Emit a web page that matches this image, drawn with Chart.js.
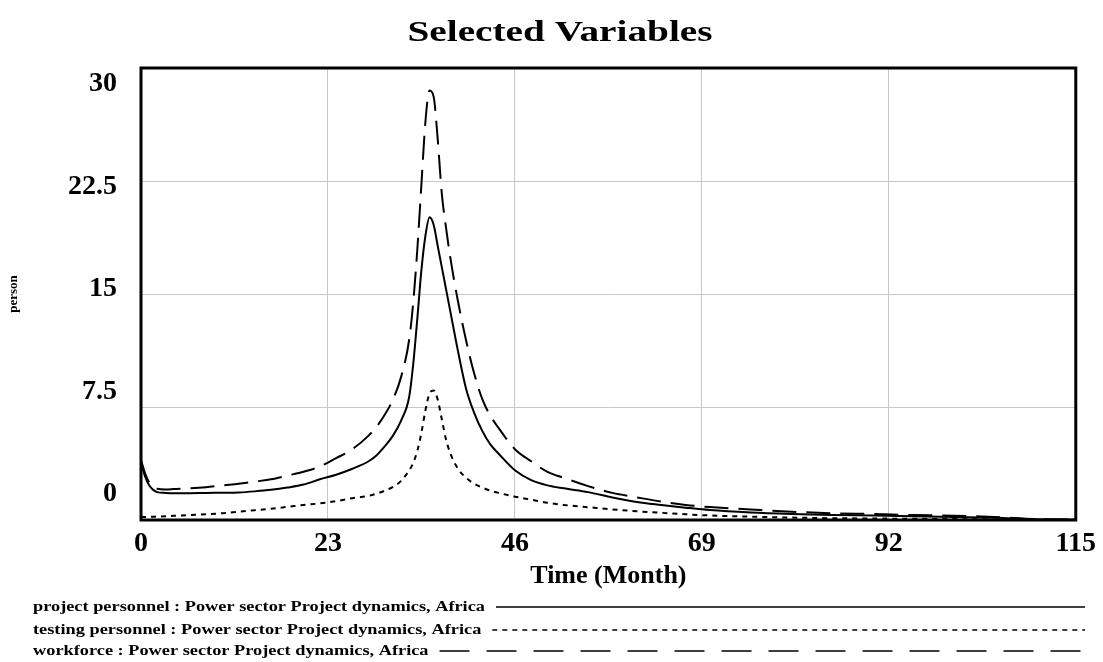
<!DOCTYPE html>
<html><head><meta charset="utf-8">
<script src="https://cdn.jsdelivr.net/npm/chart.js@4.4.1/dist/chart.umd.min.js"></script>
<style>html,body{margin:0;padding:0;background:#fff;} #wrap{width:1103px;height:662px;position:relative;}</style>
</head><body><div id="wrap"><canvas id="c" width="1103" height="662"></canvas></div>
<script>
const chartTitle = 'Selected Variables';
const xAxisTitle = 'Time (Month)';
const yAxisTitle = 'person';
const xTickLabels = ['0','23','46','69','92','115'];
const yTickValues = [0, 7.5, 15, 22.5, 30];
const yTickLabels = ['0','7.5','15','22.5','30'];
const seriesNames = [
  'project personnel : Power sector Project dynamics, Africa',
  'testing personnel : Power sector Project dynamics, Africa',
  'workforce : Power sector Project dynamics, Africa'
];
const times = [0,0.5,1,1.5,2, 3,4,6,8,10, 12,14,16,18,20, 22,24,26,28,29, 30,31,32,33,33.5, 34,34.5,35,35.5,36, 36.5,37,37.5,38,39, 40,41,42,43,44, 46,48,50,52,55, 58,61,64,67,70, 75,80,85,90,95, 100,105,110,115];
const projectPersonnel = [3.8,2.9,2.3,2.0,1.85, 1.8,1.78,1.78,1.8,1.81, 1.83,1.9,2.0,2.15,2.35, 2.7,3.0,3.4,3.9,4.3, 4.9,5.6,6.6,8.2,10.4, 13.4,16.6,18.9,20.1,19.6, 18.2,16.8,15.4,14.0,11.2, 8.7,7.1,5.9,5.0,4.4, 3.3,2.65,2.3,2.1,1.85, 1.5,1.2,1.0,0.82,0.66, 0.5,0.4,0.33,0.3,0.25, 0.2,0.15,0.05,0.02];
const testingPersonnel = [0.2,0.2,0.21,0.22,0.23, 0.25,0.28,0.32,0.38,0.45, 0.55,0.65,0.75,0.87,1.0, 1.1,1.25,1.45,1.6,1.75, 1.95,2.2,2.6,3.3,3.8, 4.6,5.8,7.3,8.4,8.6, 8.0,6.7,5.4,4.5,3.4, 2.8,2.4,2.15,1.95,1.8, 1.55,1.35,1.15,1.0,0.85, 0.7,0.58,0.48,0.38,0.3, 0.22,0.16,0.12,0.1,0.08, 0.06,0.04,0.02,0.01];
const workforce = [4.0,3.1,2.5,2.2,2.07, 2.03,2.05,2.1,2.18,2.3, 2.4,2.55,2.7,2.95,3.2, 3.55,4.1,4.7,5.6,6.2, 7.0,8.0,9.5,12.0,14.5, 18.0,22.3,26.5,28.5,28.1, 25.3,21.7,19.5,17.6,14.5, 11.9,9.7,8.0,6.9,6.1, 4.7,3.9,3.2,2.8,2.25, 1.8,1.5,1.22,1.0,0.86, 0.7,0.55,0.45,0.4,0.33, 0.28,0.2,0.07,0.03];

const SERIF = '"Liberation Serif", "Times New Roman", serif';
const toXY = arr => times.map((t, i) => ({x: t, y: arr[i]}));

const legendDashes = [[], [5,5], [30,17]];

const framePlugin = {
  id: 'frame',
  afterDatasetsDraw(chart) {
    const {ctx, chartArea: a} = chart;
    ctx.save();
    ctx.strokeStyle = '#000';
    ctx.lineWidth = 3;
    ctx.strokeRect(a.left, a.top, a.right - a.left, a.bottom - a.top);
    ctx.restore();
  }
};

const titlePlugin = {
  id: 'vtitle',
  afterDraw(chart) {
    const ctx = chart.ctx;
    ctx.save();
    ctx.font = 'bold 29px ' + SERIF;
    const w = ctx.measureText(chartTitle).width;
    ctx.translate(560, 34);
    ctx.scale(305 / w, 1);
    ctx.fillStyle = '#000';
    ctx.textAlign = 'center';
    ctx.textBaseline = 'middle';
    ctx.fillText(chartTitle, 0, 0);
    ctx.restore();
  }
};

const legendPlugin = {
  id: 'vlegend',
  afterDraw(chart) {
    const ctx = chart.ctx;
    const ys = [607, 630, 651];
    ctx.save();
    ctx.font = 'bold 15px ' + SERIF;
    const sx = 452 / ctx.measureText(seriesNames[0]).width;
    chart.data.datasets.forEach((ds, i) => {
      const w = ctx.measureText(ds.label).width * sx;
      ctx.save();
      ctx.translate(33, ys[i]);
      ctx.scale(sx, 1);
      ctx.fillStyle = '#000';
      ctx.textAlign = 'left';
      ctx.textBaseline = 'middle';
      ctx.fillText(ds.label, 0, 0);
      ctx.restore();
      ctx.beginPath();
      ctx.strokeStyle = '#000';
      ctx.lineWidth = 1.5;
      ctx.setLineDash(legendDashes[i]);
      ctx.moveTo(33 + w + 11, ys[i]);
      ctx.lineTo(1085, ys[i]);
      ctx.stroke();
    });
    ctx.restore();
  }
};

new Chart(document.getElementById('c'), {
  type: 'line',
  data: {
    datasets: [
      {label: seriesNames[0], data: toXY(projectPersonnel), borderColor: '#000', borderWidth: 2, borderDash: []},
      {label: seriesNames[1], data: toXY(testingPersonnel), borderColor: '#000', borderWidth: 2, borderDash: [5,5]},
      {label: seriesNames[2], data: toXY(workforce), borderColor: '#000', borderWidth: 2, borderDash: [24,10]}
    ]
  },
  options: {
    responsive: false,
    animation: false,
    layout: {padding: {left: 0, right: 23, top: 68, bottom: 67}},
    elements: {point: {radius: 0}, line: {cubicInterpolationMode: 'monotone', fill: false}},
    plugins: {legend: {display: false}, title: {display: false}, tooltip: {enabled: false}},
    scales: {
      x: {
        type: 'linear', min: 0, max: 115,
        afterFit: s => { s.height = 75; },
        grid: {color: '#c8c8c8', lineWidth: 1, drawTicks: false},
        border: {display: false},
        ticks: {stepSize: 23, padding: 7, color: '#000', font: {family: SERIF, size: 28, weight: 'bold'}, maxRotation: 0,
          callback: (v, i) => xTickLabels[i]},
        title: {display: true, text: xAxisTitle, color: '#000', font: {family: SERIF, size: 26, weight: 'bold'}, padding: {top: 0, bottom: 3}}
      },
      y: {
        type: 'linear', position: 'left', min: 0, max: 30,
        afterFit: s => { s.width = 0; },
        grid: {color: '#c8c8c8', lineWidth: 1, drawTicks: false},
        border: {display: false},
        ticks: {display: false, stepSize: 7.5}
      },
      yl: {
        type: 'linear', position: 'left', min: -1.9, max: 31.17,
        afterFit: s => { s.width = 141; },
        afterBuildTicks: s => { s.ticks = yTickValues.map(v => ({value: v})); },
        grid: {display: false, drawTicks: false},
        border: {display: false},
        ticks: {padding: 24, color: '#000', font: {family: SERIF, size: 28, weight: 'bold'},
          callback: (v, i) => yTickLabels[i]},
        title: {display: true, text: yAxisTitle, color: '#000', font: {family: SERIF, size: 13, weight: 'bold'}, padding: {top: 6, bottom: 0}}
      }
    }
  },
  plugins: [framePlugin, titlePlugin, legendPlugin]
});
</script>
</body></html>
